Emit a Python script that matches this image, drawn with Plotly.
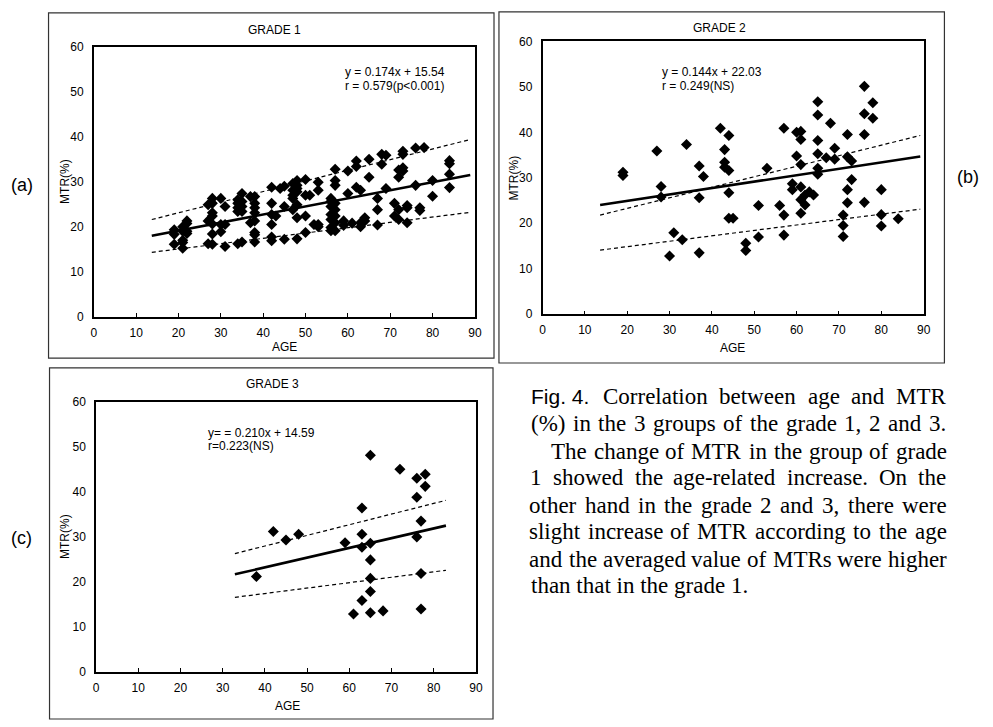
import plotly.graph_objects as go

W, H = 993, 727

# ---------------- data ----------------
# GRADE 1
g1_age = [19, 19, 19,
          21, 21, 21, 21, 21,
          22, 22, 22, 22,
          27, 27, 27,
          28, 28, 28, 28, 28, 28, 28,
          30, 30, 30,
          31, 31, 31,
          34, 34, 34, 34, 34,
          35, 35, 35, 35, 35,
          37, 37,
          38, 38, 38, 38, 38, 38, 38, 38,
          42, 42, 42, 42, 42, 42,
          43, 44,
          45, 45, 45,
          47, 47, 47, 47, 47,
          48, 48, 48, 48, 48, 48, 48,
          50, 50, 50, 50,
          51, 52,
          53, 53, 53, 53,
          56, 56, 56, 56, 56, 56, 56,
          57, 57, 57, 57, 57, 57, 57, 57,
          59, 59, 60, 60, 61,
          62, 62, 62,
          63, 63, 63,
          64, 64, 65, 65,
          67, 67, 67,
          68, 68, 69, 69, 71, 71,
          72, 72, 72, 72,
          73, 73, 73, 73,
          74, 74, 74,
          76, 76, 77, 77, 78, 80, 80,
          84, 84, 84, 84]
g1_mtr = [19.3, 18.3, 16.1,
          20.0, 19.0, 17.0, 16.5, 15.2,
          21.3, 20.7, 19.0, 18.5,
          24.9, 21.3, 16.2,
          26.3, 25.2, 23.1, 22.4, 20.6, 18.4, 16.1,
          26.3, 20.5, 18.9,
          24.5, 20.5, 15.6,
          26.0, 25.2, 24.2, 23.4, 16.2,
          27.4, 25.6, 24.5, 23.4, 16.6,
          26.7, 20.9,
          26.7, 25.2, 24.2, 23.1, 21.3, 18.7, 18.2, 16.6,
          28.8, 25.2, 22.7, 20.5, 17.7, 16.9,
          22.4, 28.5,
          29.0, 24.5, 17.2,
          29.6, 28.1, 27.0, 26.3, 23.8,
          30.3, 29.2, 28.5, 27.8, 24.9, 22.0, 17.3,
          30.5, 27.0, 22.4, 18.7,
          27.0, 20.5,
          29.9, 28.1, 20.5, 20.0,
          26.3, 25.6, 24.5, 22.7, 21.6, 19.8, 19.1,
          32.8, 30.3, 29.2, 25.2, 23.8, 22.4, 20.9, 19.1,
          21.3, 20.3, 32.4, 27.4, 20.8,
          34.6, 33.4, 28.8,
          28.1, 20.9, 20.0,
          22.0, 21.3, 35.0, 31.0,
          26.3, 23.8, 20.4,
          36.1, 33.9, 35.9, 28.5, 25.2, 22.4,
          32.6, 31.0, 23.8, 21.6,
          36.8, 36.1, 33.1, 32.4,
          24.7, 24.2, 20.9,
          37.5, 29.2, 24.2, 23.6, 37.6, 30.3, 26.8,
          34.7, 34.0, 31.7, 28.7]

# GRADE 2
g2_age = [19, 19, 27, 28, 28, 30, 31, 33, 34,
          37, 37, 37, 38, 42,
          43, 43, 43,
          44, 44, 44, 44, 45,
          48, 48, 51, 51, 53, 56,
          57, 57, 57, 59, 59, 60, 60,
          61, 61, 61, 61, 61, 61,
          62, 62, 63, 64,
          65, 65, 65, 65, 65, 65,
          67, 68, 69, 69,
          71, 71, 71,
          72, 72, 72, 72,
          73, 73,
          76, 76, 76, 76,
          78, 78, 80, 80, 80, 84]
g2_mtr = [31.2, 30.5, 35.9, 28.1, 25.8, 12.8, 17.9, 16.4, 37.3,
          32.6, 25.6, 13.5, 30.3, 40.9,
          36.2, 33.4, 32.3,
          39.3, 31.6, 26.7, 21.1, 21.1,
          15.6, 14.0, 23.9, 17.0, 32.1, 23.9,
          40.9, 21.8, 17.4, 28.7, 27.4, 40.0, 34.8,
          40.2, 38.4, 32.9, 28.0, 25.2, 22.2,
          26.2, 24.0, 26.9, 26.2,
          46.7, 43.8, 38.2, 35.3, 32.1, 30.8,
          34.4, 42.0, 36.5, 34.1,
          21.8, 19.5, 17.1,
          39.5, 34.6, 27.4, 24.5,
          33.7, 29.6,
          50.1, 44.1, 39.5, 24.6,
          46.5, 43.1, 27.4, 21.9, 19.4, 21.0]

# GRADE 3
g3_age = [38, 42, 45, 48, 59, 61,
          63, 63, 63, 63,
          65, 65, 65, 65, 65, 65,
          68, 72, 76, 76, 76,
          77, 77, 77, 78, 78]
g3_mtr = [21.2, 31.2, 29.3, 30.6, 28.7, 12.9,
          36.4, 30.6, 27.7, 15.9,
          48.1, 28.6, 24.9, 20.8, 17.9, 13.2,
          13.6, 45.0, 43.0, 38.8, 30.0,
          33.5, 21.9, 14.0, 43.9, 41.2]

# regression line and band end points (x range, y values)
g1_fit_x = [13.7, 88.9]
g1_fit_y = [18.0, 31.5]
g1_up_y = [21.6, 39.4]
g1_lo_y = [14.3, 23.2]

g2_fit_x = [13.6, 89.2]
g2_fit_y = [24.0, 34.7]
g2_up_y = [21.8, 39.3]
g2_lo_y = [14.1, 23.1]

g3_fit_x = [32.9, 82.9]
g3_fit_y = [21.7, 32.5]
g3_up_y = [26.3, 38.1]
g3_lo_y = [16.6, 22.6]

titles = ["GRADE 1", "GRADE 2", "GRADE 3"]
eq_line1 = ["y = 0.174x + 15.54", "y = 0.144x + 22.03", "y= = 0.210x + 14.59"]
eq_line2 = ["r = 0.579(p<0.001)", "r = 0.249(NS)", "r=0.223(NS)"]
panel_labels = ["(a)", "(b)", "(c)"]

caption_fig = "Fig. 4."
caption_lines = [
    "Correlation between age and MTR",
    "(%) in the 3 groups of the grade 1, 2 and 3.",
    "The change of MTR in the group of grade",
    "1 showed the age-related increase. On the",
    "other hand in the grade 2 and 3, there were",
    "slight increase of MTR according to the age",
    "and the averaged value of MTRs were higher",
    "than that in the grade 1.",
]

# ---------------- layout helpers ----------------
def px(x):
    return x / W

def py(y):
    return 1 - y / H

SANS = "Liberation Sans, Arial, sans-serif"
SERIF = "Liberation Serif, Times New Roman, serif"

# advance widths (em) of Liberation Serif / Times, used to justify the caption
TW = {' ': .25, '(': .333, ')': .333, '%': .833, ',': .25, '-': .333, '.': .25,
      'M': .889, 'T': .611, 'R': .667, 'C': .667, 'O': .722,
      'a': .444, 'b': .5, 'c': .444, 'd': .5, 'e': .444, 'f': .333, 'g': .5,
      'h': .5, 'i': .278, 'l': .278, 'm': .778, 'n': .5, 'o': .5, 'p': .5,
      'r': .333, 's': .389, 't': .278, 'u': .5, 'v': .5, 'w': .722, 'x': .5,
      'y': .5}


def word_w(w, size):
    return sum(TW.get(c, 0.5 if c.isdigit() else 0.5) for c in w) * size


# plot areas in pixels: (left, right, top, bottom)
areas = [(91.7, 476.7, 40.7, 315.7),
         (545.0, 930.0, 35.0, 313.3),
         (94.0, 477.7, 402.3, 678.3)]
frames = [(46, 6, 496, 358), (501, 5, 951, 363), (47, 368, 495, 726)]

fig = go.Figure()

data = [(g1_age, g1_mtr, g1_fit_x, g1_fit_y, g1_up_y, g1_lo_y),
        (g2_age, g2_mtr, g2_fit_x, g2_fit_y, g2_up_y, g2_lo_y),
        (g3_age, g3_mtr, g3_fit_x, g3_fit_y, g3_up_y, g3_lo_y)]

for i, (ax_, my_, fx, fy, uy, ly) in enumerate(data):
    sfx = "" if i == 0 else str(i + 1)
    xa, ya = "x" + sfx, "y" + sfx
    for band in (uy, ly):
        fig.add_trace(go.Scatter(x=fx, y=band, mode="lines", xaxis=xa, yaxis=ya,
                                 line=dict(color="black", width=1.2, dash="4px,3px"),
                                 showlegend=False, hoverinfo="skip"))
    fig.add_trace(go.Scatter(x=fx, y=fy, mode="lines", xaxis=xa, yaxis=ya,
                             line=dict(color="black", width=2.6),
                             showlegend=False, hoverinfo="skip"))
    fig.add_trace(go.Scatter(x=ax_, y=my_, mode="markers", xaxis=xa, yaxis=ya,
                             marker=dict(symbol="diamond", size=8.5, color="black",
                                         line=dict(width=0)),
                             showlegend=False))

axis_common = dict(showline=True, linecolor="black", linewidth=1.5, mirror=True,
                   showgrid=False, zeroline=False,
                   tickfont=dict(family=SANS, size=12, color="black"),
                   dtick=10, tick0=0)

layout = dict(width=W, height=H, margin=dict(l=0, r=0, t=0, b=0),
              paper_bgcolor="white", plot_bgcolor="white", showlegend=False)

for i, (l, r, t, b) in enumerate(areas):
    sfx = "" if i == 0 else str(i + 1)
    layout["xaxis" + sfx] = dict(axis_common, domain=[px(l), px(r)], range=[0, 90],
                                 anchor="y" + sfx, ticks="inside", ticklen=4,
                                 tickcolor="black", tickwidth=1,
                                 ticklabelstandoff=4)
    layout["yaxis" + sfx] = dict(axis_common, domain=[py(b), py(t)], range=[0, 60],
                                 anchor="x" + sfx, ticks="", ticklabelstandoff=6)

fig.update_layout(**layout)

ann = []
shapes = []
for (x0, y0, x1, y1) in frames:
    shapes.append(dict(type="rect", xref="paper", yref="paper",
                       x0=px(x0), x1=px(x1), y0=py(y1), y1=py(y0),
                       line=dict(color="#333", width=1.2), fillcolor="rgba(0,0,0,0)"))


def text_at(txt, x, y, size, family=SANS, xanchor="center", angle=0):
    ann.append(dict(text=txt, x=px(x), y=py(y), xref="paper", yref="paper",
                    showarrow=False, xanchor=xanchor, yanchor="middle",
                    textangle=angle, borderpad=0,
                    font=dict(family=family, size=size, color="black")))


title_pos = [(274, 23), (724, 21), (272, 384)]
eq_pos = [(344, 66, 81), (665, 66, 81), (206, 434, 448)]
age_pos = [(284, 347), (737, 348), (287, 713)]
mtr_pos = [(62, 178), (516, 174), (62, 540)]
lab_pos = [(19, 182), (975, 173), (19, 541)]

for i in range(3):
    text_at(titles[i], *title_pos[i], 12)
    text_at(eq_line1[i], eq_pos[i][0], eq_pos[i][1], 12, xanchor="left")
    text_at(eq_line2[i], eq_pos[i][0], eq_pos[i][2], 12, xanchor="left")
    text_at("AGE", *age_pos[i], 12)
    text_at("MTR(%)", *mtr_pos[i], 12, angle=-90)
    text_at(panel_labels[i], *lab_pos[i], 18)

# caption (justified between a left start and the right margin)
CAP = 23
line_y = [397, 425, 453, 480, 508, 535, 563, 590]
line_left = [607, 533, 554, 533, 532, 532, 532, 532]
RIGHT = 953
text_at(caption_fig, 532, line_y[0], 21, xanchor="left")
for k, line in enumerate(caption_lines):
    if k == len(caption_lines) - 1:
        text_at(line, line_left[k], line_y[k], CAP, family=SERIF, xanchor="left")
        continue
    words = line.split(" ")
    widths = [word_w(w, CAP) for w in words]
    gap = (RIGHT - line_left[k] - sum(widths)) / (len(words) - 1)
    xcur = line_left[k]
    for w, wd in zip(words, widths):
        text_at(w, xcur + wd / 2, line_y[k], CAP, family=SERIF)
        xcur += wd + gap

fig.update_layout(annotations=ann, shapes=shapes)
fig.write_html("out.html")
